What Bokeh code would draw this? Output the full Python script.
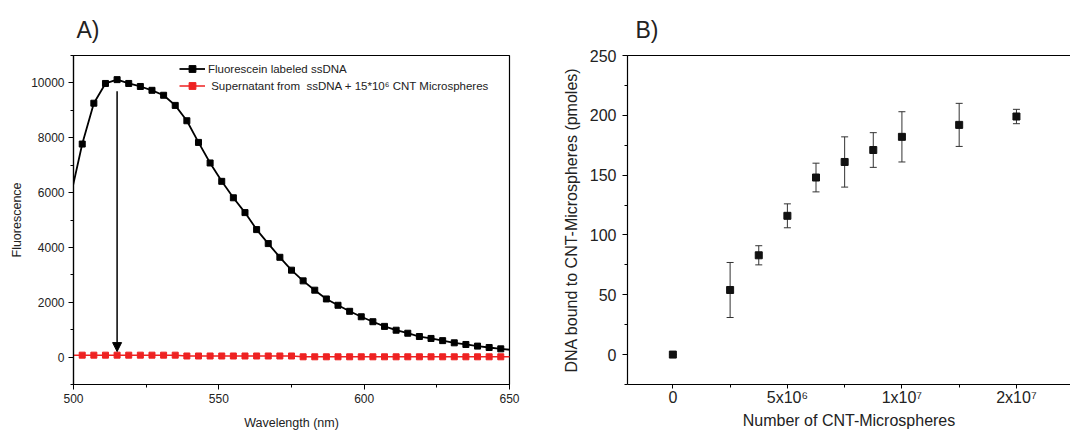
from bokeh.plotting import figure
from bokeh.models import (ColumnDataSource, Legend, LegendItem, SingleIntervalTicker,
                          FixedTicker, Whisker, TeeHead, Arrow, NormalHead, LinearAxis, Range1d)
from bokeh.layouts import row
from bokeh.embed import file_html
from bokeh.resources import INLINE

# ---------------- Panel A data ----------------
wavelength = [499, 503, 507, 511, 515, 519, 523, 527, 531, 535,
              539, 543, 547, 551, 555, 559, 563, 567, 571, 575,
              579, 583, 587, 591, 595, 599, 603, 607, 611, 615,
              619, 623, 627, 631, 635, 639, 643, 647, 651]
fluor_ssdna = [5860, 7770, 9260, 9980, 10120, 9980, 9870, 9730, 9550, 9180,
               8620, 7830, 7080, 6410, 5810, 5270, 4650, 4140, 3640, 3170,
               2780, 2440, 2120, 1890, 1670, 1470, 1290, 1120, 980, 870,
               750, 680, 600, 520, 460, 400, 350, 300, 260]
fluor_super = [70, 70, 70, 70, 70, 70, 70, 70, 70, 70,
               40, 40, 40, 40, 40, 40, 40, 40, 40, 40,
               10, 10, 10, 10, 10, 10, 10, 10, 10, 10,
               10, 10, 10, 10, 10, 10, 10, 10, 10]
label_a1 = "Fluorescein labeled ssDNA"
label_a2 = " Supernatant from  ssDNA + 15*10\u2076 CNT Microspheres"
arrow_x = 515
arrow_y_start = 9700
arrow_y_end = 200

# ---------------- Panel B data ----------------
cnt_number = [0, 2.5e6, 3.75e6, 5e6, 6.25e6, 7.5e6, 8.75e6, 1e7, 1.25e7, 1.5e7]
dna_bound = [0, 54, 83, 116, 148, 161, 171, 182, 192, 199]
dna_err = [0, 23, 8, 10, 12, 21, 14.5, 21, 18, 6]
b_ticks = [0, 5000000, 10000000, 15000000]
b_tick_labels = ["0", "5x10\u2076", "1x10\u2077", "2x10\u2077"]
b_minor = [2500000, 7500000, 12500000]

FONT = "Liberation Sans"
TXT = "#222222"


def style_axis(ax, tick_size, label_size, tick_standoff, label_standoff, tick_out=5):
    ax.axis_line_color = "black"
    ax.axis_line_width = 1.2
    ax.major_tick_in = 0
    ax.major_tick_out = tick_out
    ax.minor_tick_in = 0
    ax.minor_tick_out = 3
    ax.major_tick_line_color = "black"
    ax.minor_tick_line_color = "black"
    ax.major_label_text_font = FONT
    ax.major_label_text_font_size = tick_size
    ax.major_label_text_color = TXT
    ax.major_label_standoff = tick_standoff
    ax.axis_label_text_font = FONT
    ax.axis_label_text_font_size = label_size
    ax.axis_label_text_font_style = "normal"
    ax.axis_label_text_color = TXT
    ax.axis_label_standoff = label_standoff


def style_title(p, text, offset):
    p.title.text = text
    p.title.text_font = FONT
    p.title.text_font_size = "23px"
    p.title.text_font_style = "normal"
    p.title.text_color = TXT
    p.title.offset = offset
    p.title.standoff = 25


# ================= Panel A =================
pA = figure(width=540, height=440, output_backend="svg", toolbar_location=None,
            x_range=Range1d(500, 650), y_range=Range1d(-1000, 11000),
            min_border_left=73, min_border_right=31, min_border_top=55, min_border_bottom=56)
pA.grid.visible = False
pA.outline_line_color = "black"
pA.outline_line_width = 1.2
style_title(pA, "A)", 3)

srcA = ColumnDataSource(dict(x=wavelength, y1=fluor_ssdna, y2=fluor_super))
srcA_m = ColumnDataSource(dict(x=wavelength[1:-1], y1=fluor_ssdna[1:-1], y2=fluor_super[1:-1]))

l1 = pA.line("x", "y1", source=srcA, line_color="black", line_width=1.8)
s1 = pA.scatter("x", "y1", source=srcA_m, marker="square", size=6, color="black")
l2 = pA.line("x", "y2", source=srcA, line_color="#ee2222", line_width=1.5)
s2 = pA.scatter("x", "y2", source=srcA_m, marker="square", size=6, color="#ee2222")

pA.add_layout(Arrow(end=NormalHead(size=9, fill_color="black", line_color="black"),
                    x_start=arrow_x, y_start=arrow_y_start, x_end=arrow_x, y_end=arrow_y_end,
                    line_width=1.5, line_color="black"))

legA = Legend(items=[LegendItem(label=label_a1, renderers=[l1, s1]),
                     LegendItem(label=label_a2, renderers=[l2, s2])],
              location=(106, 290), border_line_color=None, background_fill_alpha=0,
              padding=0, margin=0, spacing=0, glyph_width=26, glyph_height=17,
              label_height=17, label_standoff=3, label_text_font=FONT,
              label_text_font_size="11.5px", label_text_color=TXT)
pA.add_layout(legA)

pA.xaxis.ticker = SingleIntervalTicker(interval=50, num_minor_ticks=2)
pA.yaxis.ticker = SingleIntervalTicker(interval=2000, num_minor_ticks=2)
pA.xaxis.axis_label = "Wavelength (nm)"
pA.yaxis.axis_label = "Fluorescence"
style_axis(pA.below[0], "12px", "12.5px", 4, 10)
style_axis(pA.left[0], "12px", "12.5px", 4, 4)

# ================= Panel B =================
pB = figure(width=530, height=440, output_backend="svg", toolbar_location=None,
            x_range=Range1d(-1.98e6, 17.36e6), y_range=Range1d(-25, 250),
            min_border_left=87, min_border_right=0, min_border_top=55, min_border_bottom=54)
pB.grid.visible = False
pB.outline_line_color = None
style_title(pB, "B)", 8)

srcB = ColumnDataSource(dict(x=cnt_number, y=dna_bound,
                             upper=[v + e for v, e in zip(dna_bound, dna_err)],
                             lower=[v - e for v, e in zip(dna_bound, dna_err)]))
pB.add_layout(Whisker(base="x", upper="upper", lower="lower", source=srcB,
                      line_color="#333333", line_width=1,
                      upper_head=TeeHead(size=7, line_color="#333333", line_width=1),
                      lower_head=TeeHead(size=7, line_color="#333333", line_width=1)))
pB.scatter("x", "y", source=srcB, marker="square", size=7, color="#111111")

bottom_ax = pB.below[0]
left_ax = pB.left[0]
bottom_ax.ticker = FixedTicker(ticks=b_ticks, minor_ticks=b_minor)
bottom_ax.major_label_overrides = {t: lab for t, lab in zip(b_ticks, b_tick_labels)}
left_ax.ticker = SingleIntervalTicker(interval=50, num_minor_ticks=2)
bottom_ax.axis_label = "Number of CNT-Microspheres"
left_ax.axis_label = "DNA bound to CNT-Microspheres (pmoles)"
style_axis(bottom_ax, "16px", "16px", 0, 3, tick_out=4)
style_axis(left_ax, "16px", "16px", 6, 7)

top_ax = LinearAxis(ticker=FixedTicker(ticks=[]), major_label_text_font_size="0px",
                    major_tick_line_color=None, minor_tick_line_color=None,
                    axis_line_color="black", axis_line_width=1.2)
pB.add_layout(top_ax, "above")

layout = row(pA, pB)
open("out.html", "w").write(file_html(layout, INLINE))
